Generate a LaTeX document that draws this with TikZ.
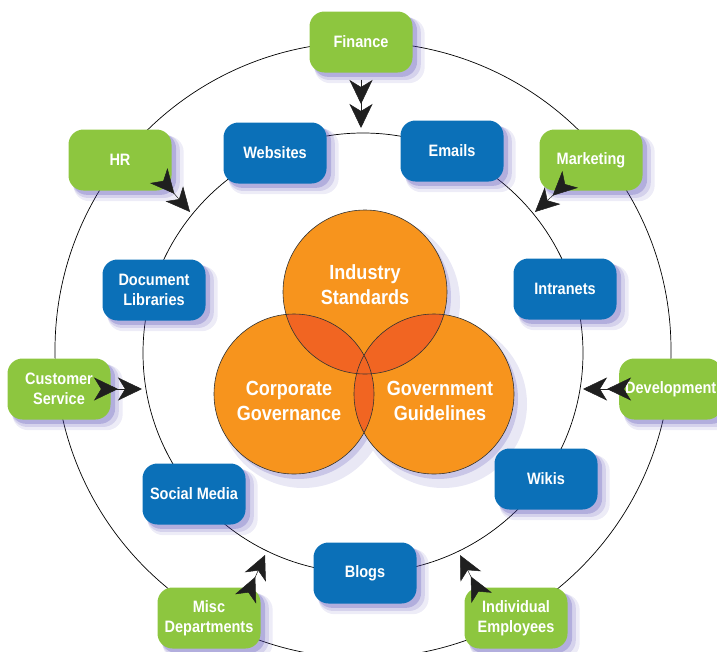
\documentclass[tikz,border=0pt]{standalone}
\usepackage{fontspec}
\newfontfamily\lblfont{Liberation Sans}[FakeStretch=0.88]
\usetikzlibrary{arrows.meta,shadows}
\definecolor{grn}{RGB}{141,198,63}
\definecolor{blu}{RGB}{11,112,184}
\definecolor{org}{RGB}{247,148,29}
\definecolor{orgd}{RGB}{241,101,34}
\definecolor{shc}{RGB}{75,65,175}

\begin{document}
\begin{tikzpicture}[x=1pt,y=-1pt,
        box/.style={rounded corners=15pt,minimum width=103pt,minimum height=61pt,inner sep=2pt,
          align=center,text=white,font=\lblfont\bfseries\fontsize{16.5}{20}\selectfont,
          general shadow={shadow xshift=8pt,shadow yshift=-8pt,shadow scale=1.07,fill=shc,opacity=.1},
          general shadow={shadow xshift=6pt,shadow yshift=-6pt,shadow scale=1.04,fill=shc,opacity=.15},
          general shadow={shadow xshift=4pt,shadow yshift=-4pt,shadow scale=1.01,fill=shc,opacity=.25}},
        gbox/.style={box,fill=grn},
        bbox/.style={box,fill=blu},
        venn/.style={align=center,text=white,font=\lblfont\bfseries\fontsize{20.5}{25}\selectfont},
        dbl/.style={->>,>={Stealth[length=24pt,width=23pt,inset=7pt]},line width=.5pt,black!88}]
        \useasboundingbox (0,0) rectangle (717,651);
        \draw[line width=.7pt] (363,350) circle (308);
        \draw[line width=.7pt] (363,353) circle (220);

        \coordinate (v_i) at (365,292);
        \coordinate (v_c) at (294,394);
        \coordinate (v_g) at (434,394);
        \fill[shc,opacity=.12] (374,302) circle (86) (303,404) circle (84) (443,404) circle (84);
        \fill[shc,opacity=.2] (369,297) circle (82) (298,399) circle (80) (438,399) circle (80);
        \fill[org] (v_i) circle (82) (v_c) circle (80) (v_g) circle (80);
        \begin{scope}
          \clip (v_i) circle (82);
          \fill[orgd] (v_c) circle (80) (v_g) circle (80);
        \end{scope}
        \begin{scope}
          \clip (v_c) circle (80);
          \fill[orgd] (v_g) circle (80);
        \end{scope}
        \draw[line width=.6pt,black!80] (v_i) circle (82) (v_c) circle (80) (v_g) circle (80);
        \node[venn] (is) at (365,285) {Industry\\Standards};
        \node[venn] (cg) at (289,401) {Corporate\\Governance};
        \node[venn] (gg) at (440,401) {Government\\Guidelines};

        \node[bbox] (web)   at (275,153) {Websites};
        \node[bbox] (mail)  at (452,151) {Emails};
        \node[bbox] (doc)   at (154,290) {Document\\Libraries};
        \node[bbox] (intra) at (565,289) {Intranets};
        \node[bbox] (soc)   at (194,494) {Social Media};
        \node[bbox] (blog)  at (365,573) {Blogs};
        \node[bbox] (wiki)  at (546,479) {Wikis};

        \node[gbox] (fin)  at (361,42)  {Finance};
        \node[gbox] (hr)   at (120,160) {HR};
        \node[gbox] (mkt)  at (591,160) {Marketing};
        \node[gbox] (cs)   at (59,389)  {Customer\\Service};
        \node[gbox,anchor=west] (dev) at (619,389) {Development};
        \node[gbox] (misc) at (209,618) {Misc\\Departments};
        \node[gbox] (emp)  at (516,618) {Individual\\Employees};

        \coordinate (t_fin)  at (361,128);
        \coordinate (t_hr)   at (190,212);
        \coordinate (t_mkt)  at (535,212);
        \coordinate (t_cs)   at (142,389);
        \coordinate (t_dev)  at (583,389);
        \coordinate (t_misc) at (265,555);
        \coordinate (t_emp)  at (460,555);
        \path[dbl]
         (fin) edge[shorten <=7pt] (t_fin)
         (hr.south east) edge (t_hr)
         (mkt) edge (t_mkt)
         (cs) edge (t_cs)
         (dev) edge (t_dev)
         ([xshift=-10pt]misc.north east) edge (t_misc)
         ([xshift=12pt]emp.north west) edge (t_emp);
\end{tikzpicture}
\end{document}
